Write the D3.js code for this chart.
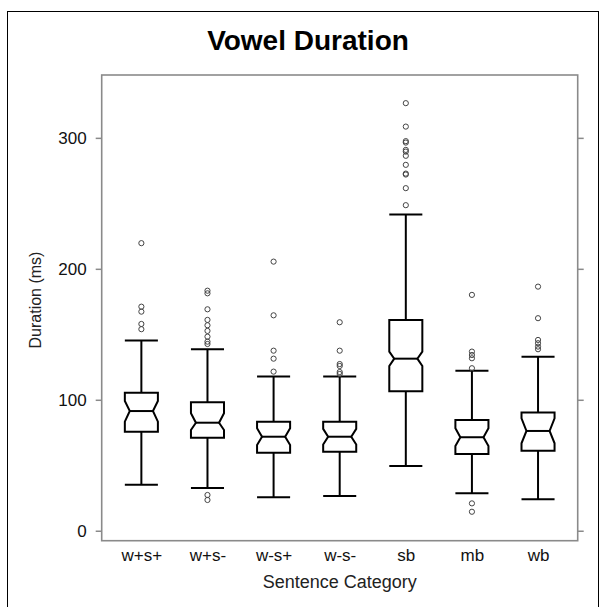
<!DOCTYPE html>
<html>
<head>
<meta charset="utf-8">
<script src="https://cdn.jsdelivr.net/npm/d3@7"></script>
<style>
  html, body { margin: 0; padding: 0; background: #fff; }
  svg { display: block; }
  text { font-family: "Liberation Sans", Arial, Helvetica, sans-serif; }
</style>
</head>
<body>
<svg id="chart" width="606" height="607"></svg>
<script>
const categories = ["w+s+", "w+s-", "w-s+", "w-s-", "sb", "mb", "wb"];
const lowerWhisker = [35.2, 32.6, 25.5, 26.5, 49.4, 28.6, 24.0];
const q1 = [75.6, 71.1, 59.6, 60.4, 106.5, 58.6, 61.1];
const median = [91.4, 82.5, 71.8, 71.8, 131.4, 71.4, 76.2];
const q3 = [105.4, 98.1, 83.3, 83.3, 161.0, 84.6, 90.2];
const upperWhisker = [145.2, 138.6, 117.7, 117.7, 241.4, 122.2, 132.9];
const notchLow = [83.3, 76.9, 65.5, 65.8, 125.8, 64.7, 66.8];
const notchHigh = [99.1, 89.7, 78.2, 77.8, 136.8, 78.2, 85.9];
const outliers = [
  [219.6, 171.1, 167.3, 157.9, 153.9],
  [183.3, 181.3, 169.1, 161.0, 156.9, 152.6, 148.2, 144.4, 142.6, 27.3, 23.5],
  [205.5, 164.5, 137.5, 131.4, 121.5],
  [159.2, 137.5, 127.3, 125.8, 121.2, 119.7],
  [326.5, 308.6, 297.5, 296.4, 290.8, 289.5, 286.3, 279.4, 272.7, 272.0, 261.6, 248.6],
  [180.1, 136.8, 134.2, 131.7, 124.1, 20.9, 14.5],
  [186.4, 162.3, 145.7, 143.2, 140.6, 138.6]
];
const yTicks = [0, 100, 200, 300];
const titleText = "Vowel Duration";
const xTitle = "Sentence Category";
const yTitle = "Duration (ms)";

const svg = d3.select("#chart");
const panel = { left: 101.7, right: 577.7, top: 75, bottom: 540.7 };

// outer border
svg.append("rect")
  .attr("x", 7.5).attr("y", 11.5)
  .attr("width", 591).attr("height", 620)
  .attr("fill", "none").attr("stroke", "#000").attr("stroke-width", 1);

const x = d3.scalePoint().domain(categories)
  .range([panel.left, panel.right]).padding(0.6);
const y = d3.scaleLinear().domain([-7.6, 348])
  .range([panel.bottom, panel.top]);

const boxW = x.step() * 0.5;
const indent = boxW * 0.15;

// title
svg.append("text")
  .attr("x", 308).attr("y", 50)
  .attr("text-anchor", "middle")
  .attr("font-size", 28).attr("font-weight", "bold")
  .attr("fill", "#000")
  .text(titleText);

// axes
const axisColor = "#8a8a8a";
const gl = svg.append("g").attr("transform", `translate(${panel.left},0)`)
  .call(d3.axisLeft(y).tickValues(yTicks).tickSize(6).tickPadding(9).tickFormat(d3.format("d")));
const gr = svg.append("g").attr("transform", `translate(${panel.right},0)`)
  .call(d3.axisRight(y).tickValues(yTicks).tickSize(6).tickFormat(""));
[gl, gr].forEach(g => {
  g.select(".domain").remove();
  g.selectAll(".tick line").attr("stroke", axisColor).attr("stroke-width", 1.5);
});
gl.selectAll(".tick text")
  .attr("font-size", 17).attr("fill", "#111")
  .style("font-family", "'Liberation Sans', Arial, sans-serif");

// x axis labels
const gb = svg.append("g").attr("transform", `translate(0,${panel.bottom})`)
  .call(d3.axisBottom(x).tickSize(0).tickPadding(8));
gb.select(".domain").remove();
gb.selectAll(".tick text")
  .attr("font-size", 17).attr("fill", "#111")
  .style("font-family", "'Liberation Sans', Arial, sans-serif");

// panel frame
svg.append("rect")
  .attr("x", panel.left).attr("y", panel.top)
  .attr("width", panel.right - panel.left).attr("height", panel.bottom - panel.top)
  .attr("fill", "none").attr("stroke", axisColor).attr("stroke-width", 1.6);

// axis titles
svg.append("text")
  .attr("x", (panel.left + panel.right) / 2).attr("y", 588)
  .attr("text-anchor", "middle").attr("font-size", 18).attr("fill", "#222")
  .text(xTitle);
svg.append("text")
  .attr("transform", `translate(41,300) rotate(-90)`)
  .attr("text-anchor", "middle").attr("font-size", 16).attr("fill", "#222")
  .text(yTitle);

// boxes
const data = categories.map((c, i) => ({
  c, lw: lowerWhisker[i], q1: q1[i], med: median[i], q3: q3[i], uw: upperWhisker[i],
  nl: notchLow[i], nh: notchHigh[i], out: outliers[i]
}));

const g = svg.append("g");
data.forEach(d => {
  const cx = x(d.c);
  const l = cx - boxW / 2, r = cx + boxW / 2;
  const line = (x1, y1, x2, y2) => g.append("line")
    .attr("x1", x1).attr("y1", y1).attr("x2", x2).attr("y2", y2)
    .attr("stroke", "#000").attr("stroke-width", 2);
  // whiskers
  line(cx, y(d.q3), cx, y(d.uw));
  line(cx, y(d.q1), cx, y(d.lw));
  line(l, y(d.uw), r, y(d.uw));
  line(l, y(d.lw), r, y(d.lw));
  // notched box
  const p = d3.path();
  p.moveTo(l, y(d.q3));
  p.lineTo(l, y(d.nh));
  p.lineTo(l + indent, y(d.med));
  p.lineTo(l, y(d.nl));
  p.lineTo(l, y(d.q1));
  p.lineTo(r, y(d.q1));
  p.lineTo(r, y(d.nl));
  p.lineTo(r - indent, y(d.med));
  p.lineTo(r, y(d.nh));
  p.lineTo(r, y(d.q3));
  p.closePath();
  g.append("path").attr("d", p.toString()).attr("fill", "#fff")
    .attr("stroke", "#000").attr("stroke-width", 2).attr("stroke-linejoin", "miter");
  line(l + indent, y(d.med), r - indent, y(d.med));
  // outliers
  g.selectAll(null).data(d.out).enter().append("circle")
    .attr("cx", cx).attr("cy", v => y(v)).attr("r", 2.6)
    .attr("fill", "none").attr("stroke", "#444").attr("stroke-width", 1);
});
</script>
</body>
</html>
